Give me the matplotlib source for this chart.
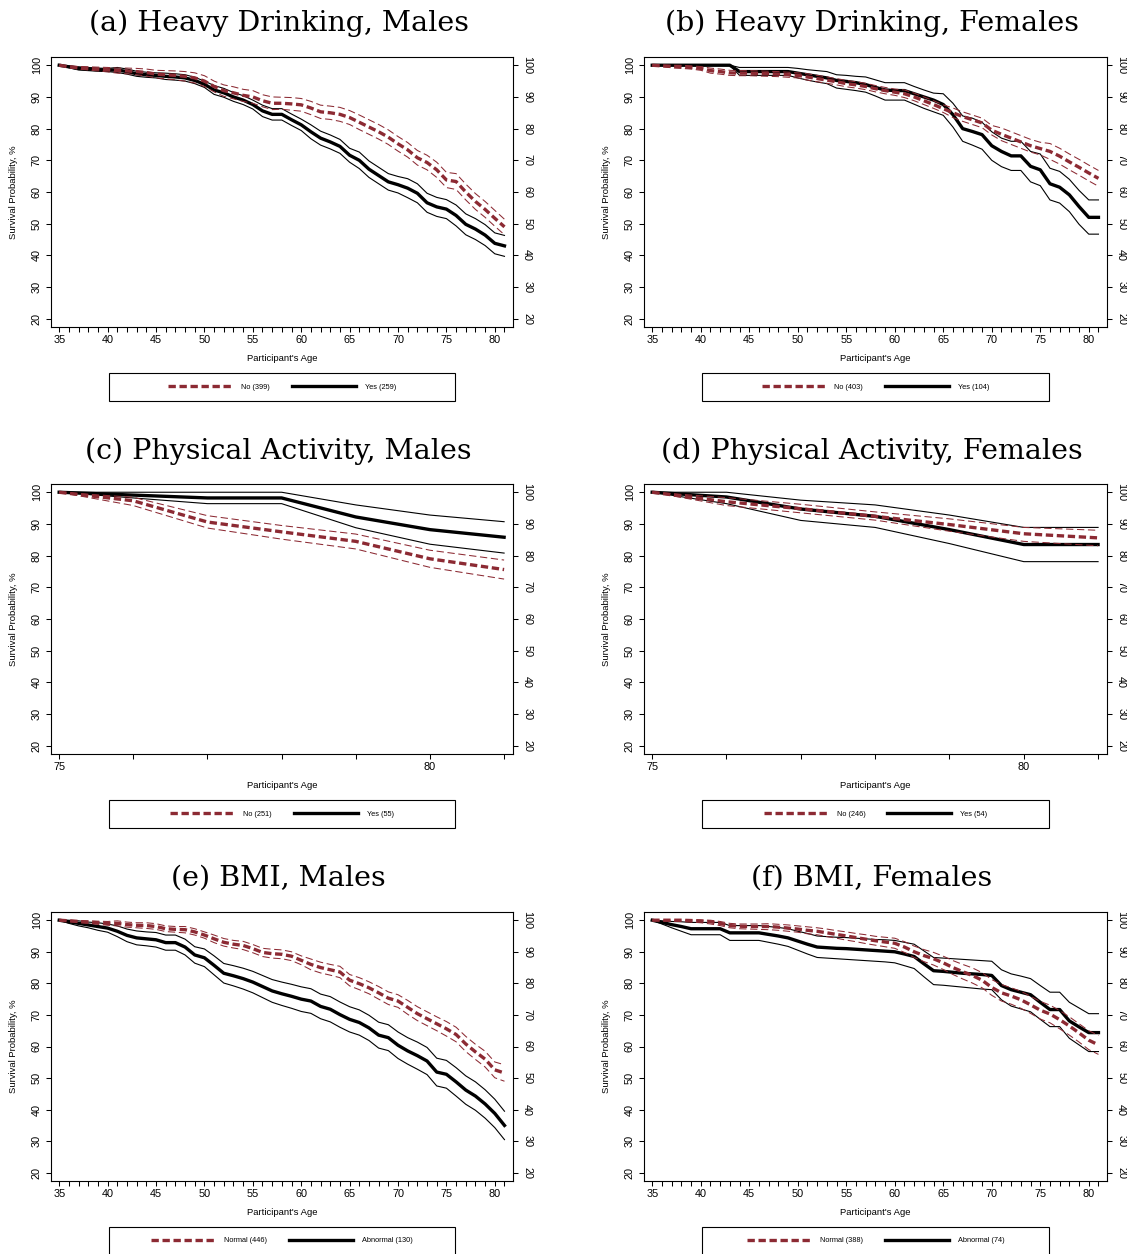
import numpy as np
import matplotlib
matplotlib.use('Agg')
import matplotlib.pyplot as plt
from matplotlib.lines import Line2D
from matplotlib.patches import Rectangle

plt.rcParams['font.family'] = ['Liberation Sans', 'DejaVu Sans']

W, H = 1127, 1254
RED = '#8c2a33'

ages = list(range(35, 82))
ages_pa = list(range(75, 82))

# (a) heavy drinking, males
a_no = [100,99.5,99.2,99,98.8,98.6,98.3,98.2,98,97.7,97.2,97,96.8,96.5,96,95,93.3,92,91.3,90.5,90,88.8,88,88,87.8,87.5,86.5,85.3,85,84.5,83.5,82,80.5,79,77.3,75.2,73.3,70.8,69.3,67,63.8,63.3,60,57,54.5,51.7,49]
a_no_hi = [100,99.8,99.6,99.5,99.4,99.3,99.1,99.1,99,98.8,98.4,98.3,98.2,98,97.6,96.7,95,93.8,93.2,92.4,92,90.7,90,89.9,89.8,89.5,88.6,87.4,87.1,86.7,85.7,84.3,82.8,81.3,79.6,77.5,75.6,73.1,71.6,69.4,66.2,65.8,62.5,59.5,57,54.2,51.4]
a_no_lo = [100,99.2,98.8,98.5,98.2,97.9,97.5,97.3,97,96.6,96,95.7,95.4,95,94.4,93.3,91.6,90.2,89.4,88.6,88,86.9,86,86.1,85.8,85.5,84.4,83.2,82.9,82.3,81.3,79.7,78.2,76.7,75,72.9,71,68.5,67,64.6,61.4,60.8,57.5,54.5,52,49.2,46.5]
a_yes = [100,99.5,99,98.8,98.6,98.5,98.5,98,97.3,97,96.8,96.5,96.3,96,95.2,94,92.2,91.3,90,89,87.6,85.6,84.5,84.5,82.8,81.2,79,77,75.8,74.4,71.6,70,67.2,65.2,63.2,62.3,61.2,59.6,56.6,55.3,54.6,52.6,49.8,48.3,46.4,43.8,43]
a_yes_hi = [100,99.8,99.5,99.3,99.1,99,99.3,98.8,98.1,97.8,97.6,97.5,97.3,97,96.2,95,93.6,92.7,91.4,90.4,89,87.4,86.3,86.3,84.6,83,81.2,79.2,78,76.6,73.8,72.6,69.8,67.8,65.8,64.9,64.2,62.6,59.6,58.3,57.6,55.9,53.1,51.6,49.7,47.1,46.3]
a_yes_lo = [100,99.2,98.5,98.3,98.1,98,97.7,97.2,96.5,96.2,96,95.5,95.3,95,94.2,93,90.8,89.9,88.6,87.6,86.2,83.8,82.7,82.7,81,79.4,76.8,74.8,73.6,72.2,69.4,67.4,64.6,62.6,60.6,59.7,58.2,56.6,53.6,52.3,51.6,49.3,46.5,45,43.1,40.5,39.7]

# (b) heavy drinking, females
b_no = [100,99.8,99.6,99.5,99.3,99,98.3,98,97.6,97.5,97.5,97.4,97.3,97.2,97,96.8,96.3,95.8,95.3,94.8,94.2,93.8,93.3,92.6,92,91.5,91,90,88.8,87.6,86.3,85,83.8,82.8,81.8,79.5,78.2,77,75.8,74.6,73.7,72.8,71.3,69.5,67.8,66,64.3]
b_no_hi = [100,100,100,100,99.8,99.6,99.1,98.8,98.4,98.3,98.3,98.2,98.1,98,97.8,97.6,97.3,96.8,96.3,95.8,95.2,94.8,94.3,93.6,93,92.5,92.2,91.2,90,88.8,87.5,86.5,85.3,84.3,83.3,81,80.2,79,77.8,76.6,75.7,75.3,73.8,72,70.3,68.5,66.8]
b_no_lo = [100,99.6,99.2,99,98.8,98.4,97.5,97.2,96.8,96.7,96.7,96.6,96.5,96.4,96.2,96,95.3,94.8,94.3,93.8,93.2,92.8,92.3,91.6,91,90.5,89.8,88.8,87.6,86.4,85.1,83.5,82.3,81.3,80.3,78,76.2,75,73.8,72.6,71.7,70.3,68.8,67,65.3,63.5,61.8]
b_yes = [100,100,100,100,100,100,100,100,100,98,98,98,98,98,98,97.5,97,96.5,96,95.2,94.9,94.5,93.9,93,92.2,92,92,91,90,89,87.6,84.4,80,79.1,78.1,74.6,72.8,71.4,71.4,68.1,67,62.6,61.5,59.1,55.4,52,52]
b_yes_hi = [100,100,100,100,100,100,100,100,100,99.3,99.3,99.3,99.3,99.3,99.3,99,98.6,98.3,98,97,96.8,96.5,96.3,95.4,94.5,94.5,94.5,93.3,92.2,91.2,91,88,84,83.3,82,79,77,76,76,72.8,72,67.5,66.5,64,60.5,57.5,57.5]
b_yes_lo = [100,100,100,100,100,100,100,100,100,96.8,96.8,96.8,96.8,96.8,96.8,96,95.3,94.7,94.2,92.8,92.4,92,91.5,90.3,89,89,89,87.7,86.4,85.3,84.2,80.5,76,74.8,73.5,70,68,66.8,66.8,63.2,62,57.5,56.5,53.8,49.8,46.7,46.7]

# (c) physical activity, males
c_no = [100,97.3,90.6,87.5,84.5,79,75.6]
c_no_hi = [100,98.4,92.6,89.5,86.8,81.7,78.6]
c_no_lo = [100,95.8,88.7,85.2,82.1,76.3,72.6]
c_yes = [100,99.1,98.2,98.2,92.2,88.2,85.8]
c_yes_hi = [100,100,100,100,96,92.8,90.7]
c_yes_lo = [100,98.2,96.4,96.4,88.8,83.6,80.8]

# (d) physical activity, females
d_no = [100,97,94.8,92.4,89.8,86.9,85.6]
d_no_hi = [100,98.3,96.2,93.8,91.6,88.9,88]
d_no_lo = [100,95.8,93.5,91.2,87.7,84.5,83.1]
d_yes = [100,98.5,94.7,92.4,88.2,83.5,83.5]
d_yes_hi = [100,100,97.5,96,92.8,88.9,88.9]
d_yes_lo = [100,96.4,91.1,88.9,83.8,78.1,78.1]

# (e) BMI, males
e_no = [100,99.8,99.6,99.4,99.2,99,99,98.6,98.4,98.3,98,97.3,97.1,97,96.3,95.3,94.1,93,92.4,92,91,89.8,89.4,89.2,88.6,87.3,86,85,84.3,83.6,81,79.9,78.6,77,75.3,74.4,72.4,70.4,68.8,67.2,65.6,63.8,60.8,58.3,56,52.6,51.6]
e_no_hi = [100,100,99.9,99.8,99.7,99.6,99.8,99.4,99.2,99.2,98.9,98.2,98,98,97.3,96.3,95.3,94.2,93.6,93.3,92.3,91.1,90.8,90.6,90,88.7,87.7,86.7,86,85.4,82.8,81.8,80.5,79,77.3,76.4,74.6,72.6,71,69.4,67.9,66.1,63.2,60.7,58.5,55.1,54.2]
e_no_lo = [100,99.6,99.3,99,98.7,98.4,98.2,97.8,97.6,97.4,97.1,96.4,96.2,96,95.3,94.3,92.9,91.8,91.2,90.7,89.7,88.5,88,87.8,87.2,85.9,84.3,83.3,82.6,81.8,79.2,78,76.7,75,73.3,72.4,70.2,68.2,66.6,65,63.3,61.5,58.4,55.9,53.5,50.1,49]
e_yes = [100,99.5,99,98.5,98,97.5,96.5,95.2,94.4,94.1,93.8,92.9,92.9,91.5,89,88.1,85.7,83.2,82.4,81.5,80.4,79,77.6,76.7,75.9,75,74.4,72.7,71.8,70.1,68.6,67.6,65.9,63.6,62.8,60.4,58.6,57.1,55.4,51.9,51.2,48.8,46.2,44.3,41.8,38.8,35]
e_yes_hi = [100,100,99.8,99.4,99.2,98.8,98.2,97.2,96.6,96.3,96.1,95.3,95.3,94,91.6,90.9,88.7,86.3,85.6,84.8,83.8,82.5,81.2,80.4,79.7,78.9,78.3,76.6,75.8,74.1,72.6,71.6,69.9,67.7,66.9,64.6,62.8,61.4,59.7,56.3,55.6,53.3,50.7,48.8,46.3,43.3,39.5]
e_yes_lo = [100,99,98.2,97.6,96.8,96.2,94.8,93.2,92.2,91.9,91.5,90.5,90.5,89,86.4,85.3,82.7,80.1,79.2,78.2,77,75.5,74,73,72.1,71.1,70.5,68.8,67.8,66.1,64.6,63.6,61.9,59.5,58.7,56.2,54.4,52.8,51.1,47.5,46.8,44.3,41.7,39.8,37.3,34.3,30.5]

# (f) BMI, females
f_no = [100,100,100,100,99.9,99.8,99.5,99,98.3,98.1,98,98,98,97.8,97.5,97.2,96.8,96.5,96,95.5,95,94.5,94,93.5,93.1,92.7,91.5,90,88.8,87.8,86.5,85,83.7,82.5,81,78.7,77,76,74.8,73.2,71.5,70.3,68.5,66.5,64.3,62,60.5]
f_no_hi = [100,100,100,100,100,100,100,99.6,99,98.8,98.8,98.8,98.9,98.7,98.5,98.2,97.9,97.6,97.2,96.7,96.3,95.8,95.4,94.9,94.6,94.3,93.2,91.8,90.7,89.8,88.6,87.2,86,84.9,83.4,81.2,79.6,78.6,77.5,75.9,74.3,73.1,71.4,69.4,67.2,65,63.5]
f_no_lo = [100,99.8,99.7,99.6,99.4,99.2,98.8,98.3,97.6,97.3,97.2,97.1,97,96.8,96.5,96.2,95.7,95.4,94.8,94.3,93.7,93.2,92.6,92.1,91.6,91.1,89.8,88.2,86.9,85.8,84.4,82.8,81.4,80.1,78.6,76.2,74.4,73.4,72.1,70.5,68.7,67.5,65.6,63.6,61.4,59,57.5]
f_yes = [100,99.3,98.6,98,97.3,97.3,97.3,97.3,96,96,96,96,95.5,95,94.4,93.4,92.4,91.5,91.3,91.1,91,90.8,90.6,90.4,90.2,90,89.3,88.5,86.2,84,83.8,83.5,83.2,83,82.8,82.5,79.3,78,77.2,76.4,74,71.7,71.7,68.1,66.2,64.4,64.4]
f_yes_hi = [100,99.8,99.6,99.5,99.3,99.3,99.3,99.3,98.3,98.3,98.3,98.3,98,97.7,97.3,96.5,95.8,95,94.8,94.6,94.5,94.3,94.1,93.9,93.8,93.6,93,92.4,90.3,88.2,88,87.8,87.6,87.4,87.2,87,84.3,83,82.3,81.5,79.3,77.2,77.2,74,72.2,70.4,70.4]
f_yes_lo = [100,98.8,97.6,96.5,95.4,95.4,95.4,95.4,93.6,93.6,93.6,93.6,93,92.4,91.7,90.5,89.3,88.2,88,87.8,87.6,87.4,87.2,87,86.8,86.5,85.6,84.7,82.1,79.6,79.4,79.1,78.8,78.5,78.2,78,74.8,72.8,71.9,71,68.6,66.3,66.3,62.6,60.5,58.4,58.4]

titles = ['(a) Heavy Drinking, Males', '(b) Heavy Drinking, Females',
          '(c) Physical Activity, Males', '(d) Physical Activity, Females',
          '(e) BMI, Males', '(f) BMI, Females']
legends = [('No (399)', 'Yes (259)'), ('No (403)', 'Yes (104)'),
           ('No (251)', 'Yes (55)'), ('No (246)', 'Yes (54)'),
           ('Normal (446)', 'Abnormal (130)'), ('Normal (388)', 'Abnormal (74)')]

panels = [
	(ages, a_no, a_no_lo, a_no_hi, a_yes, a_yes_lo, a_yes_hi),
	(ages, b_no, b_no_lo, b_no_hi, b_yes, b_yes_lo, b_yes_hi),
	(ages_pa, c_no, c_no_lo, c_no_hi, c_yes, c_yes_lo, c_yes_hi),
	(ages_pa, d_no, d_no_lo, d_no_hi, d_yes, d_yes_lo, d_yes_hi),
	(ages, e_no, e_no_lo, e_no_hi, e_yes, e_yes_lo, e_yes_hi),
	(ages, f_no, f_no_lo, f_no_hi, f_yes, f_yes_lo, f_yes_hi),
]

cols = [(51, 513), (644, 1107)]
rows = [(57, 327), (484, 754), (912, 1181)]
title_y = [23, 451, 878]

fig = plt.figure(figsize=(W/100, H/100), dpi=100)

for i, (x, no, no_lo, no_hi, yes, yes_lo, yes_hi) in enumerate(panels):
	r, c = divmod(i, 2)
	x0, x1 = cols[c]
	y0, y1 = rows[r]
	ax = fig.add_axes([x0/W, 1 - y1/H, (x1 - x0)/W, (y1 - y0)/H])

	ax.plot(x, yes_hi, color='black', lw=0.8)
	ax.plot(x, yes_lo, color='black', lw=0.8)
	ax.plot(x, yes, color='black', lw=2.4)
	ax.plot(x, no_hi, color=RED, lw=0.75, dashes=(7, 3.5))
	ax.plot(x, no_lo, color=RED, lw=0.75, dashes=(7, 3.5))
	ax.plot(x, no, color=RED, lw=2.4, dashes=(2.2, 1.1))

	if x[0] == 75:
		ax.set_xlim(74.89, 81.12)
		ax.set_xticks(x)
		ax.set_xticklabels(['75', '', '', '', '', '80', ''])
	else:
		ax.set_xlim(34.15, 81.88)
		ax.set_xticks(range(35, 81, 5))
		ax.set_xticks(x, minor=True)

	ax.set_ylim(17.4, 102.6)
	ax.set_yticks(range(20, 101, 10))

	ax.tick_params(axis='both', which='both', length=3.6, width=0.75, labelsize=7.8, direction='out')
	ax.tick_params(axis='x', pad=2.5)
	ax.tick_params(axis='y', left=True, right=True, labelleft=True, labelright=True, pad=3)
	for t in ax.yaxis.get_major_ticks():
		t.label1.set_rotation(90)
		t.label1.set_va('center')
		t.label2.set_rotation(-90)
		t.label2.set_va('center')

	for s in ax.spines.values():
		s.set_linewidth(0.8)

	ax.set_ylabel('Survival Probability, %', fontsize=6.8)
	ax.yaxis.set_label_coords(-0.072, 0.5)
	ax.set_xlabel("Participant's Age", fontsize=6.8)
	ax.xaxis.set_label_coords(0.5, -0.118)
	ax.xaxis.label.set_va('center')

	fig.text((x0 + x1)/2/W - 0.003, 1 - title_y[r]/H, titles[i], ha='center', va='center',
	         family=['DejaVu Serif'], fontsize=20.5)

	handles = [Line2D([], [], color=RED, lw=2.4, dashes=(2.2, 1.1)),
	           Line2D([], [], color='black', lw=2.4)]
	ax.legend(handles, legends[i], loc='center', bbox_to_anchor=(0.5, -0.222), ncol=2,
	          frameon=False, fontsize=5.3, handlelength=8.7, handletextpad=1.2, columnspacing=3.0)
	ax.add_patch(Rectangle((0.1255, -0.274), 0.749, 0.104, transform=ax.transAxes,
	                       fill=False, lw=0.8, edgecolor='black', clip_on=False))

fig.savefig('out.png', dpi=100)
